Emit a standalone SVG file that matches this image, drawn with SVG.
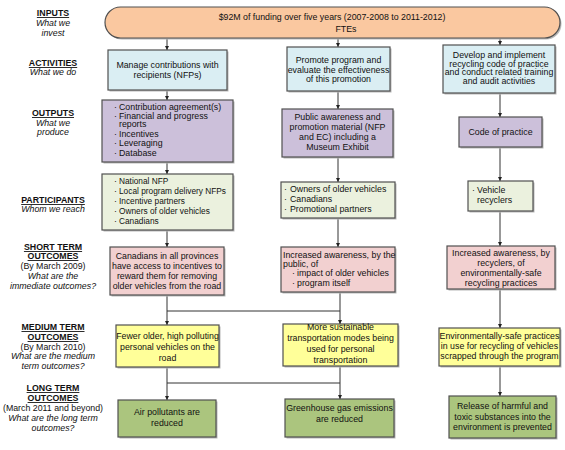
<svg xmlns="http://www.w3.org/2000/svg" width="565" height="450" viewBox="0 0 565 450">
<style>
text{font-family:"Liberation Sans",Arial,sans-serif;font-size:8.8px;fill:#111}
.c{text-anchor:middle}
.h{font-weight:bold;text-decoration:underline;text-anchor:middle}
.i{font-style:italic;text-anchor:middle}
.n{text-anchor:middle}
.s{font-size:8.3px}
.box{stroke:#505050;stroke-width:1.2}
.sh{fill:#b8b8b8}
.in{fill:#FAC8A0}
.act{fill:#DAEEF3}
.out{fill:#CCC0DA}
.par{fill:#EBF1DE}
.st{fill:#F2D0D0}
.mt{fill:#FFFF99}
.lt{fill:#ABC57E}
.ln{stroke:#333;stroke-width:1;fill:none}
</style>
<defs>
<marker id="ah" viewBox="0 0 8 8" refX="8" refY="4" markerWidth="4.5" markerHeight="4.5" orient="auto" markerUnits="userSpaceOnUse">
<path d="M0,0 L8,4 L0,8 z" fill="#222"/>
</marker>
</defs>
<rect width="565" height="450" fill="#fff"/>

<g id="labels">
<text class="h" x="53" y="16">INPUTS</text>
<text class="i" x="53" y="26">What we</text>
<text class="i" x="53" y="36">invest</text>
<text class="h" x="53" y="66">ACTIVITIES</text>
<text class="i" x="53" y="75">What we do</text>
<text class="h" x="53" y="116">OUTPUTS</text>
<text class="i" x="53" y="126">What we</text>
<text class="i" x="53" y="135">produce</text>
<text class="h" x="53" y="203">PARTICIPANTS</text>
<text class="i" x="53" y="212">Whom we reach</text>
<text class="h" x="53" y="250">SHORT TERM</text>
<text class="h" x="53" y="259">OUTCOMES</text>
<text class="n" x="53" y="269">(By March 2009)</text>
<text class="i" x="53" y="279">What are the</text>
<text class="i" x="53" y="289">immediate outcomes?</text>
<text class="h" x="53" y="330">MEDIUM TERM</text>
<text class="h" x="53" y="340">OUTCOMES</text>
<text class="n" x="53" y="350">(By March 2010)</text>
<text class="i" x="53" y="359">What are the medium</text>
<text class="i" x="53" y="369">term outcomes?</text>
<text class="h" x="53" y="391">LONG TERM</text>
<text class="h" x="53" y="401">OUTCOMES</text>
<text class="n" x="53" y="411">(March 2011 and beyond)</text>
<text class="i" x="53" y="421">What are the long term</text>
<text class="i" x="53" y="431">outcomes?</text>
</g>

<g id="connectors">
<line class="ln" x1="167" y1="38" x2="167" y2="50" marker-end="url(#ah)"/>
<line class="ln" x1="338" y1="38" x2="338" y2="47" marker-end="url(#ah)"/>
<line class="ln" x1="500" y1="38" x2="500" y2="45" marker-end="url(#ah)"/>
<line class="ln" x1="167" y1="90" x2="167" y2="100" marker-end="url(#ah)"/>
<line class="ln" x1="338" y1="91" x2="338" y2="109" marker-end="url(#ah)"/>
<line class="ln" x1="500" y1="93" x2="500" y2="117" marker-end="url(#ah)"/>
<line class="ln" x1="167" y1="162" x2="167" y2="174" marker-end="url(#ah)"/>
<line class="ln" x1="338" y1="157" x2="338" y2="182" marker-end="url(#ah)"/>
<line class="ln" x1="500" y1="147" x2="500" y2="181" marker-end="url(#ah)"/>
<line class="ln" x1="167" y1="230" x2="167" y2="247" marker-end="url(#ah)"/>
<line class="ln" x1="338" y1="218" x2="338" y2="247" marker-end="url(#ah)"/>
<line class="ln" x1="500" y1="211" x2="500" y2="246" marker-end="url(#ah)"/>
<line class="ln" x1="167" y1="295" x2="167" y2="325" marker-end="url(#ah)"/>
<line class="ln" x1="340" y1="292" x2="340" y2="324" marker-end="url(#ah)"/>
<line class="ln" x1="167" y1="311" x2="340" y2="311"/>
<line class="ln" x1="500" y1="289" x2="500" y2="328" marker-end="url(#ah)"/>
<line class="ln" x1="167" y1="367" x2="167" y2="400" marker-end="url(#ah)"/>
<line class="ln" x1="340" y1="366" x2="340" y2="399" marker-end="url(#ah)"/>
<line class="ln" x1="167" y1="383" x2="340" y2="383"/>
<line class="ln" x1="500" y1="366" x2="500" y2="396" marker-end="url(#ah)"/>
</g>

<g id="inputs">
<rect class="sh" x="106.5" y="8.5" width="455" height="31" rx="15.5"/>
<rect class="box in" x="105" y="7" width="455" height="31" rx="15.5"/>
<text class="c" x="332" y="20">$92M of funding over five years (2007-2008 to 2011-2012)</text>
<text class="c" x="346" y="32">FTEs</text>
</g>

<g id="act1">
<rect class="sh" x="109.5" y="51.5" width="119" height="40"/>
<rect class="box act" x="108" y="50" width="119" height="40"/>
<text class="c" x="167.5" y="68">Manage contributions with</text>
<text class="c" x="167.5" y="78">recipients (NFPs)</text>
</g>
<g id="act2">
<rect class="sh" x="288.5" y="48.5" width="103" height="44"/>
<rect class="box act" x="287" y="47" width="103" height="44"/>
<text class="c" x="338.5" y="63">Promote program and</text>
<text class="c" x="338.5" y="73">evaluate the effectiveness</text>
<text class="c" x="338.5" y="82">of this promotion</text>
</g>
<g id="act3">
<rect class="sh" x="444.5" y="46.5" width="112" height="48"/>
<rect class="box act" x="443" y="45" width="112" height="48"/>
<text class="c" x="499" y="58">Develop and implement</text>
<text class="c" x="499" y="66.5">recycling code of practice</text>
<text class="c" x="499" y="75">and conduct related training</text>
<text class="c" x="499" y="83.5">and audit activities</text>
</g>

<g id="out1">
<rect class="sh" x="103.5" y="101.5" width="131" height="62"/>
<rect class="box out" x="102" y="100" width="131" height="62"/>
<text x="114" y="110">·</text><text x="119" y="110">Contribution agreement(s)</text>
<text x="114" y="118.5">·</text><text x="119" y="118.5">Financial and progress</text>
<text x="119" y="127">reports</text>
<text x="114" y="136.5">·</text><text x="119" y="136.5">Incentives</text>
<text x="114" y="146">·</text><text x="119" y="146">Leveraging</text>
<text x="114" y="155.5">·</text><text x="119" y="155.5">Database</text>
</g>
<g id="out2">
<rect class="sh" x="283.5" y="110.5" width="111" height="48"/>
<rect class="box out" x="282" y="109" width="111" height="48"/>
<text class="c" x="337.5" y="120">Public awareness and</text>
<text class="c" x="337.5" y="130">promotion material (NFP</text>
<text class="c" x="337.5" y="140">and EC) including a</text>
<text class="c" x="337.5" y="150">Museum Exhibit</text>
</g>
<g id="out3">
<rect class="sh" x="460.5" y="118.5" width="83" height="30"/>
<rect class="box out" x="459" y="117" width="83" height="30"/>
<text class="c" x="500.5" y="135">Code of practice</text>
</g>

<g id="part1">
<rect class="sh" x="103.5" y="175.5" width="131" height="56"/>
<rect class="box par" x="102" y="174" width="131" height="56"/>
<text x="114" y="184">·</text><text class="s" x="119" y="184">National NFP</text>
<text x="114" y="194">·</text><text class="s" x="119" y="194">Local program delivery NFPs</text>
<text x="114" y="204">·</text><text class="s" x="119" y="204">Incentive partners</text>
<text x="114" y="214">·</text><text class="s" x="119" y="214">Owners of older vehicles</text>
<text x="114" y="224">·</text><text class="s" x="119" y="224">Canadians</text>
</g>
<g id="part2">
<rect class="sh" x="282.5" y="183.5" width="114" height="36"/>
<rect class="box par" x="281" y="182" width="114" height="36"/>
<text x="284" y="192">·</text><text x="290" y="192">Owners of older vehicles</text>
<text x="284" y="202">·</text><text x="290" y="202">Canadians</text>
<text x="284" y="212">·</text><text x="290" y="212">Promotional partners</text>
</g>
<g id="part3">
<rect class="sh" x="469.5" y="182.5" width="65" height="30"/>
<rect class="box par" x="468" y="181" width="65" height="30"/>
<text x="472" y="193">·</text><text x="477" y="193">Vehicle</text>
<text x="477" y="202.5">recyclers</text>
</g>

<g id="st1">
<rect class="sh" x="111.5" y="248.5" width="114" height="48"/>
<rect class="box st" x="110" y="247" width="114" height="48"/>
<text class="c" x="167" y="259">Canadians in all provinces</text>
<text class="c" x="167" y="269">have access to incentives to</text>
<text class="c" x="167" y="279">reward them for removing</text>
<text class="c" x="167" y="289">older vehicles from the road</text>
</g>
<g id="st2">
<rect class="sh" x="282.5" y="248.5" width="114" height="45"/>
<rect class="box st" x="281" y="247" width="114" height="45"/>
<text x="283" y="258">Increased awareness, by the</text>
<text x="283" y="266.5">public, of</text>
<text x="292" y="276">·</text><text x="297" y="276">impact of older vehicles</text>
<text x="292" y="286">·</text><text x="297" y="286">program itself</text>
</g>
<g id="st3">
<rect class="sh" x="448.5" y="247.5" width="108" height="43"/>
<rect class="box st" x="447" y="246" width="108" height="43"/>
<text class="c" x="501" y="256">Increased awareness, by</text>
<text class="c" x="501" y="266">recyclers, of</text>
<text class="c" x="501" y="276">environmentally-safe</text>
<text class="c" x="501" y="286">recycling practices</text>
</g>

<g id="mt1">
<rect class="sh" x="117.5" y="326.5" width="103" height="42"/>
<rect class="box mt" x="116" y="325" width="103" height="42"/>
<text class="c" x="167.5" y="339">Fewer older, high polluting</text>
<text class="c" x="167.5" y="350">personal vehicles on the</text>
<text class="c" x="167.5" y="361">road</text>
</g>
<g id="mt2">
<rect class="sh" x="284.5" y="325.5" width="115" height="42"/>
<rect class="box mt" x="283" y="324" width="115" height="42"/>
<text class="c" x="340.5" y="330">More sustainable</text>
<text class="c" x="340.5" y="341">transportation modes being</text>
<text class="c" x="340.5" y="352">used for personal</text>
<text class="c" x="340.5" y="363">transportation</text>
</g>
<g id="mt3">
<rect class="sh" x="440.5" y="329.5" width="121" height="38"/>
<rect class="box mt" x="439" y="328" width="121" height="38"/>
<text class="c" x="499.5" y="339">Environmentally-safe practices</text>
<text class="c" x="499.5" y="349">in use for recycling of vehicles</text>
<text class="c" x="499.5" y="359">scrapped through the program</text>
</g>

<g id="lt1">
<rect class="sh" x="119.5" y="401.5" width="98" height="37"/>
<rect class="box lt" x="118" y="400" width="98" height="37"/>
<text class="c" x="167" y="415">Air pollutants are</text>
<text class="c" x="167" y="426">reduced</text>
</g>
<g id="lt2">
<rect class="sh" x="286.5" y="400.5" width="109" height="38"/>
<rect class="box lt" x="285" y="399" width="109" height="38"/>
<text class="c" x="339.5" y="411">Greenhouse gas emissions</text>
<text class="c" x="339.5" y="422">are reduced</text>
</g>
<g id="lt3">
<rect class="sh" x="450.5" y="397.5" width="107" height="42"/>
<rect class="box lt" x="449" y="396" width="107" height="42"/>
<text class="c" x="502.5" y="409">Release of harmful and</text>
<text class="c" x="502.5" y="420">toxic substances into the</text>
<text class="c" x="502.5" y="430">environment is prevented</text>
</g>
</svg>
